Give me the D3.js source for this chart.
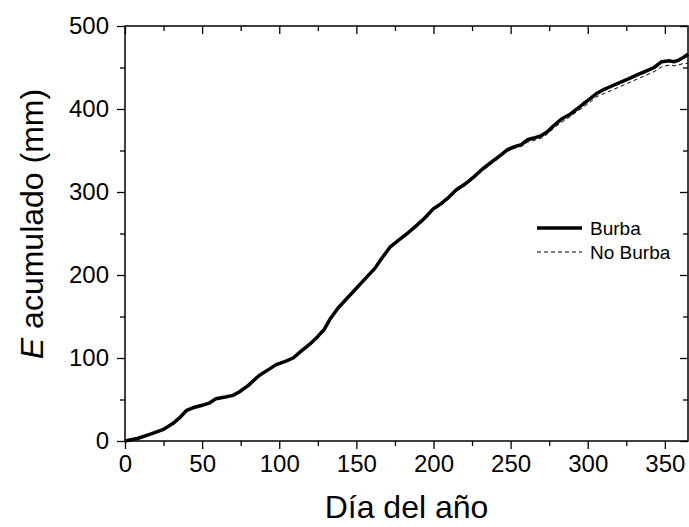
<!DOCTYPE html>
<html>
<head>
<meta charset="utf-8">
<script src="https://cdn.jsdelivr.net/npm/d3@7"></script>
<style>
html,body{margin:0;padding:0;background:#fff;}
svg{display:block;}
text{font-family:"Liberation Sans",Arial,sans-serif;fill:#000;}
</style>
</head>
<body>
<svg id="chart" width="689" height="527"></svg>
<script>
// ---- data ----
const days = [0,8,16,25,31,36,40,44,50,55,59,65,70,74,80,87,93,98,104,109,114,120,125,129,133,138,144,150,157,162,166,172,178,183,188,194,200,205,210,215,220,226,232,239,244,248,253,257,261,265,270,274,278,283,288,293,297,302,306,311,316,321,326,332,337,343,348,353,356,359,362,365];
const burba = [0,3,8,14,21,29,37,40,43,46,51,53,55,59,67,79,86,92,96,100,108,117,126,134,147,160,172,184,198,208,219,234,243,250,258,268,280,286,294,303,309,318,328,338,345,351,355,357,363,365,368,373,380,388,393,400,406,413,419,424,428,432,436,441,445,450,457,458,457,459,462,466];
const noBurba = [0,3,8,14,21,29,37,40,43,46,51,53,55,59,67,79,86,92,96,100,108,117,126,134,147,160,171,183,197,207,218,233,242,249,256,266,278,284,292,301,307,316,326,336,343,349,353,355,360,362,365,370,377,384,390,397,402,409,415,419,423,427,431,436,440,445,451,453,452,453,455,455];
const seriesNames = ["Burba","No Burba"];
const xTicks = [0,50,100,150,200,250,300,350];
const yTicks = [0,100,200,300,400,500];
const xLabel = "Día del año";
const yLabelItalic = "E";
const yLabelRest = " acumulado (mm)";

// ---- layout ----
const W = 689, H = 527;
const m = {left:125, right:1, top:26, bottom:86};
const svg = d3.select("#chart");
const x = d3.scaleLinear().domain([0,365]).range([m.left, W-m.right]);
const y = d3.scaleLinear().domain([0,500]).range([H-m.bottom, m.top]);
const x0 = m.left, x1 = W-m.right, y0 = H-m.bottom, y1 = m.top;

// lines
const line = d3.line().x((d,i)=>x(days[i])).y(d=>y(d));
svg.append("path").datum(noBurba).attr("d",line)
  .attr("fill","none").attr("stroke","#000").attr("stroke-width",1)
  .attr("stroke-dasharray","4,3");
svg.append("path").datum(burba).attr("d",line)
  .attr("fill","none").attr("stroke","#000").attr("stroke-width",3.5)
  .attr("stroke-linejoin","round");

// axes
const minorX = d3.range(0,366,25);
const minorY = d3.range(0,501,50);
const fmt = d3.format("d");

svg.append("g").attr("transform",`translate(0,${y0})`)
  .call(d3.axisBottom(x).tickValues(xTicks).tickSize(8).tickPadding(6).tickFormat(fmt));
svg.append("g").attr("transform",`translate(0,${y0})`)
  .call(d3.axisBottom(x).tickValues(minorX.filter(v=>v%50)).tickSize(5).tickFormat(""));
svg.append("g").attr("transform",`translate(${x0},0)`)
  .call(d3.axisLeft(y).tickValues(yTicks).tickSize(8).tickPadding(8).tickFormat(fmt));
svg.append("g").attr("transform",`translate(${x0},0)`)
  .call(d3.axisLeft(y).tickValues(minorY.filter(v=>v%100)).tickSize(5).tickFormat(""));
// top & right inward ticks
svg.append("g").attr("transform",`translate(0,${y1})`)
  .call(d3.axisBottom(x).tickValues(xTicks).tickSize(8).tickFormat(""));
svg.append("g").attr("transform",`translate(0,${y1})`)
  .call(d3.axisBottom(x).tickValues(minorX.filter(v=>v%50)).tickSize(5).tickFormat(""));
svg.append("g").attr("transform",`translate(${x1},0)`)
  .call(d3.axisLeft(y).tickValues(yTicks).tickSize(8).tickFormat(""));
svg.append("g").attr("transform",`translate(${x1},0)`)
  .call(d3.axisLeft(y).tickValues(minorY.filter(v=>v%100)).tickSize(5).tickFormat(""));

svg.selectAll(".domain").remove();
svg.selectAll(".tick line").attr("stroke","#000").attr("stroke-width",1.3);
svg.selectAll(".tick text").style("font-size","24px").style("font-family","'Liberation Sans',Arial,sans-serif");

// frame
svg.append("rect").attr("x",x0).attr("y",y1).attr("width",x1-x0).attr("height",y0-y1)
  .attr("fill","none").attr("stroke","#000").attr("stroke-width",1.5);

// axis titles
svg.append("text").attr("x",(x0+x1)/2).attr("y",518).attr("text-anchor","middle")
  .style("font-size","32px").text(xLabel);
const yt = svg.append("text").attr("transform",`translate(43,224) rotate(-90)`)
  .attr("text-anchor","middle").style("font-size","32px");
yt.append("tspan").style("font-style","italic").text(yLabelItalic);
yt.append("tspan").text(yLabelRest);

// legend
const leg = svg.append("g");
const legY = [228, 252];
leg.append("line").attr("x1",537).attr("x2",582).attr("y1",legY[0]).attr("y2",legY[0])
  .attr("stroke","#000").attr("stroke-width",3.5);
leg.append("line").attr("x1",537).attr("x2",582).attr("y1",legY[1]).attr("y2",legY[1])
  .attr("stroke","#000").attr("stroke-width",1).attr("stroke-dasharray","4,3");
seriesNames.forEach((n,i)=>{
  leg.append("text").attr("x",590).attr("y",legY[i]+7).style("font-size","19px").text(n);
});
</script>
</body>
</html>
